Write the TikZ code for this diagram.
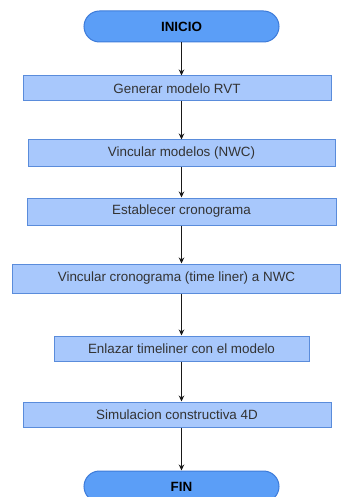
\documentclass[tikz,border=0pt]{standalone}
\usepackage{fontspec}
\setmainfont{Liberation Sans}
\usetikzlibrary{arrows.meta}
\definecolor{pillfill}{HTML}{5B9EF7}
\definecolor{pilldraw}{HTML}{3D7BD9}
\definecolor{boxfill}{HTML}{A8C8FC}
\definecolor{boxdraw}{HTML}{5A8CDB}
\definecolor{txt}{HTML}{333333}
\begin{document}
\begin{tikzpicture}[x=1pt,y=-1pt,
  pill/.style={rectangle, rounded corners=15.5pt, draw=pilldraw, fill=pillfill, line width=1pt,
    minimum height=31pt, minimum width=195pt, inner sep=0pt, text=black,
    font=\fontsize{13.4}{15}\selectfont\bfseries},
  stepbox/.style={rectangle, draw=boxdraw, fill=boxfill, line width=1pt, inner sep=0pt,
    text=txt, font=\fontsize{13.4}{15}\selectfont},
  arr/.style={-{Stealth[length=6pt,width=5.5pt]}, line width=1.5pt, black!90}]
\useasboundingbox (0,0) rectangle (341,497);
\node[pill] (inicio) at (181.5,26.5) {INICIO};
\node[stepbox, minimum width=308pt, minimum height=25pt] (b1) at (177,88.5) {Generar modelo RVT};
\node[stepbox, minimum width=307pt, minimum height=26pt] (b2) at (181.5,153) {Vincular modelos (NWC)};
\node[stepbox, minimum width=309pt, minimum height=27pt] (b3) at (181.5,211.5) {Establecer cronograma};
\node[stepbox, minimum width=328pt, minimum height=29pt] (b4) at (176.5,278.5) {Vincular cronograma (time liner) a NWC};
\node[stepbox, minimum width=255pt, minimum height=25pt] (b5) at (181.5,348.5) {Enlazar timeliner con el modelo};
\node[stepbox, minimum width=308pt, minimum height=25pt] (b6) at (177,414.5) {Simulacion constructiva 4D};
\node[pill] (fin) at (181.5,486.5) {FIN};
\draw[arr] (inicio.south) -- (b1.north -| inicio.south);
\draw[arr] (b1.south -| inicio.south) -- (b2.north -| inicio.south);
\draw[arr] (b2.south -| inicio.south) -- (b3.north -| inicio.south);
\draw[arr] (b3.south -| inicio.south) -- (b4.north -| inicio.south);
\draw[arr] (b4.south -| inicio.south) -- (b5.north -| inicio.south);
\draw[arr] (b5.south -| inicio.south) -- (b6.north -| inicio.south);
\draw[arr] (b6.south -| inicio.south) -- (fin.north);
\end{tikzpicture}
\end{document}
